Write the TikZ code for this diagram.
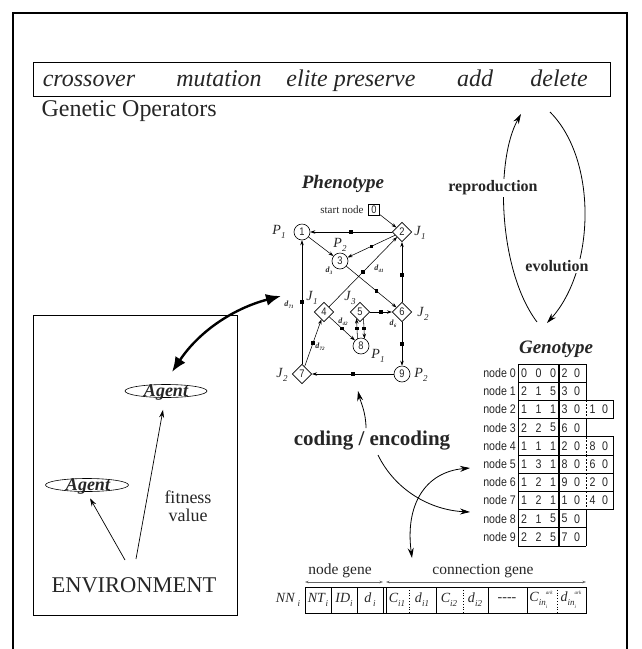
\documentclass[tikz,border=0pt]{standalone}
\usepackage{fontspec}
\setmainfont{Liberation Serif}
\newfontfamily\condsans[FakeStretch=0.85]{Liberation Sans}
\usetikzlibrary{arrows.meta,shapes.geometric,decorations.markings}

\newcommand\fsz[1]{\fontsize{#1}{#1}\selectfont}
% italic symbol with a small italic index
\newcommand\idx[2]{\textit{#1}\raisebox{-0.28em}{\fsz{9}\itshape #2}}
% bold italic delay label
\newcommand\dly[1]{\textbf{\textit{d}}\raisebox{-0.2em}{\fsz{5}\bfseries\itshape #1}}

\begin{document}
\begin{tikzpicture}[x=1pt,y=-1pt,
  every node/.style={text=black!85},
  opword/.style={font=\fsz{24}\itshape, anchor=base},
  pcirc/.style={circle, draw, line width=0.6pt, minimum size=16pt, inner sep=0pt, fill=white, font=\condsans\fsz{11}},
  pdiam/.style={diamond, draw, line width=0.6pt, minimum width=19.5pt, minimum height=19.5pt, inner sep=0pt, fill=white, font=\condsans\fsz{11}},
  plab/.style={font=\fsz{14}},
  dlab/.style={font=\fsz{8}},
  pe/.style={-{Stealth[length=5pt,width=3.5pt]}, line width=0.55pt},
  mid/.style={postaction={decorate}, decoration={markings, mark=at position #1 with {\pgftransformresetnontranslations\fill (-1.7,-1.7) rectangle (1.7,1.7);}}},
  mid/.default=0.5,
  bigarrow/.style={{Latex[length=15pt,width=12pt]}-{Latex[length=15pt,width=12pt]}, line width=2.4pt},
  thinarrow/.style={-{Stealth[length=8pt,width=5pt]}, line width=0.7pt},
  ca/.style={-{Stealth[length=10pt,width=6pt]}, line width=0.8pt},
  cyclelab/.style={font=\fsz{16}\bfseries, fill=white, inner sep=1.5pt},
  rowlab/.style={anchor=east, inner sep=0pt, font=\condsans\fsz{12.5}},
  dig/.style={inner sep=0pt, font=\condsans\fsz{12.5}},
  cell/.style={font=\fsz{14}},
  genearrow/.style={{Stealth[length=3.5pt,width=2.5pt]}-{Stealth[length=3.5pt,width=2.5pt]}, line width=0.6pt, black!60},
]
\useasboundingbox (0,0) rectangle (641,649);

% outer frame, open at the bottom
\draw[line width=2pt] (13,649) -- (13,13) -- (627,13) -- (627,649);

% genetic operators
\draw[line width=0.8pt] (33,62) rectangle (610,96);
\node[opword] (opc) at (89,86) {crossover};
\node[opword] (opm) at (219,86) {mutation};
\node[opword] (ope) at (351,86) {elite preserve};
\node[opword] (opa) at (475,86) {add};
\node[opword] (opd) at (559,86) {delete};
\node[font=\fsz{24}, anchor=base west] (gops) at (38,116) {Genetic Operators};

% reproduction / evolution cycle
\coordinate (rB) at (537,322);
\coordinate (rT) at (521,114);
\coordinate (eT) at (550,112);
\coordinate (eB) at (547,323);
\draw[ca] (rB) .. controls (498,270) and (495,160) .. (rT);
\draw[ca] (eT) .. controls (598,160) and (595,270) .. (eB);
\node[cyclelab] (repro) at (493,188) {reproduction};
\node[cyclelab] (evol) at (557,266) {evolution};

% phenotype network
\node[font=\fsz{19}\bfseries\itshape] (phen) at (343,184) {Phenotype};
\node[font=\fsz{11}, anchor=east] (stxt) at (367,210) {start node};
\node[draw, line width=0.8pt, minimum width=11pt, minimum height=11pt, inner sep=0pt, font=\condsans\fsz{11}] (n0) at (374,210) {0};
\node[pcirc] (n1) at (302,232) {1};
\node[pdiam] (n2) at (402,232) {2};
\node[pcirc] (n3) at (340,261) {3};
\node[pdiam] (n4) at (324,312) {4};
\node[pdiam] (n5) at (360,312) {5};
\node[pdiam] (n6) at (402,312) {6};
\node[pdiam] (n7) at (302,374) {7};
\node[pcirc] (n8) at (361,346) {8};
\node[pcirc] (n9) at (402,374) {9};

\draw[pe] (n0) -- (n2);
\draw[pe,mid] (n2) -- (n1);
\draw[pe] (n1) -- (n3);
\draw[pe,mid] (n2) -- (n3);
\draw[pe,mid] (n4) -- (n2);
\draw[pe,mid=0.6] (n3) -- (n6);
\draw[pe,mid=0.45] (n6) -- (n2);
\draw[pe,mid, line width=0.9pt] (n5) -- (n6);
\draw[pe,mid] (n4) -- (n8);
\draw[pe,mid] ([xshift=-3.5pt,yshift=-0.9pt]n8.north) -- ([xshift=-3.5pt,yshift=3.5pt]n5.south);
\draw[pe,mid] ([xshift=3.5pt,yshift=3.5pt]n5.south) -- ([xshift=3.5pt,yshift=-0.9pt]n8.north);
\draw[pe,mid] (n7) -- (n4);
\draw[pe,mid] (n9) -- (n7);
\draw[pe,mid] (n6) -- (n9);
\draw[pe,mid] (n7) -- (n1);

\node[plab] (lb1) at (279,232) {\idx{P}{1}};
\node[plab] (lb2) at (420,233) {\idx{J}{1}};
\node[plab] (lb3) at (340,245) {\idx{P}{2}};
\node[plab] (lb4) at (312,298) {\idx{J}{1}};
\node[plab] (lb5) at (350,298) {\idx{J}{3}};
\node[plab] (lb6) at (423,314) {\idx{J}{2}};
\node[plab] (lb7) at (282,375) {\idx{J}{2}};
\node[plab] (lb8) at (378,356) {\idx{P}{1}};
\node[plab] (lb9) at (421,375) {\idx{P}{2}};
\node[dlab] (d3) at (329,271) {\dly{3}};
\node[dlab] (d41) at (379,269) {\dly{41}};
\node[dlab] (d71) at (289,305) {\dly{71}};
\node[dlab] (d42) at (343,322) {\dly{42}};
\node[dlab] (d6) at (393,324) {\dly{6}};
\node[dlab] (d72) at (320,347) {\dly{72}};

% environment with its agents
\draw[line width=0.8pt] (33,315) rectangle (237,615);
\node[ellipse, draw, line width=0.6pt, minimum width=82pt, minimum height=13pt, inner sep=0pt] (agT) at (166,391) {};
\node[font=\fsz{18}\bfseries\itshape, anchor=base] (agTt) at (166,396) {Agent};
\node[ellipse, draw, line width=0.6pt, minimum width=83pt, minimum height=13pt, inner sep=0pt] (agB) at (87,485) {};
\node[font=\fsz{18}\bfseries\itshape, anchor=base] (agBt) at (88,490) {Agent};
\node[font=\fsz{18}, align=center] (fit) at (188,506) {fitness\\value};
\node[font=\fsz{22.5}, anchor=base] (env) at (134,592) {ENVIRONMENT};
\coordinate (ea) at (125,560);
\coordinate (eb) at (136,559);
\draw[thinarrow] (ea) -- ([xshift=3pt,yshift=-6.5pt]agB.south);
\draw[thinarrow] (eb) -- ([xshift=-3pt,yshift=-12pt]agT.south);

% agent <-> phenotype link
\coordinate (dblA) at (172,372);
\coordinate (dblB) at (281,296);
\draw[bigarrow] (dblA) .. controls (200,330) and (235,308) .. (dblB);

% coding / encoding
\node[font=\fsz{21}\bfseries] (code) at (372,441) {coding / encoding};
\coordinate (cu1) at (366,428);
\coordinate (cu2) at (358,391);
\draw[ca] (cu1) .. controls (366,412) and (360,400) .. (cu2);
\coordinate (cr1) at (378,455);
\coordinate (cr2) at (470,512);
\draw[ca] (cr1) .. controls (395,490) and (430,510) .. (cr2);
\coordinate (cd1) at (412,558);
\coordinate (cd2) at (470,468);
\draw[ca, {Stealth[length=10pt,width=6pt]}-{Stealth[length=10pt,width=6pt]}] (cd1) .. controls (405,505) and (425,472) .. (cd2);

% genotype table
\node[font=\fsz{19}\bfseries\itshape] (gen) at (556,349) {Genotype};
\foreach \r/\a/\b/\c/\d/\e in {0/0/0/0/2/0, 1/2/1/5/3/0, 2/1/1/1/3/0, 3/2/2/5/6/0, 4/1/1/1/2/0, 5/1/3/1/8/0, 6/1/2/1/9/0, 7/1/2/1/1/0, 8/2/1/5/5/0, 9/2/2/5/7/0}{
  \pgfmathsetmacro\yt{364+18.2*\r}
  \pgfmathsetmacro\ym{\yt+9.1}
  \pgfmathsetmacro\yb{\yt+18.2}
  \draw[line width=0.8pt] (586,\yt) -- (518,\yt) -- (518,\yb) -- (586,\yb);
  \draw[line width=1.6pt] (559,\yt) -- (559,\yb);
  \node[rowlab] (rl\r) at (516,\ym) {node \r};
  \node[dig] (g\r-a) at (524,\ym) {\a};
  \node[dig] (g\r-b) at (538.5,\ym) {\b};
  \node[dig] (g\r-c) at (553,\ym) {\c};
  \node[dig] (g\r-d) at (564.5,\ym) {\d};
  \node[dig] (g\r-e) at (577,\ym) {\e};
}
\foreach \r in {0,1,3,8,9}{
  \pgfmathsetmacro\yt{364+18.2*\r}
  \pgfmathsetmacro\yb{\yt+18.2}
  \draw[line width=0.8pt] (586,\yt) -- (586,\yb);
}
\foreach \r/\f/\g in {2/1/0, 4/8/0, 5/6/0, 6/2/0, 7/4/0}{
  \pgfmathsetmacro\yt{364+18.2*\r}
  \pgfmathsetmacro\ym{\yt+9.1}
  \pgfmathsetmacro\yb{\yt+18.2}
  \draw[line width=0.8pt] (586,\yt) -- (613,\yt) -- (613,\yb) -- (586,\yb);
  \draw[line width=0.7pt, dash pattern=on 2pt off 1.5pt] (586,\yt) -- (586,\yb);
  \node[dig] (g\r-f) at (592.5,\ym) {\f};
  \node[dig] (g\r-g) at (605,\ym) {\g};
}

% chromosome layout of one network
\node[font=\fsz{15.5}] (ngene) at (340,571) {node gene};
\node[font=\fsz{15.5}] (cgene) at (483,571) {connection gene};
\coordinate (na) at (305,582);
\coordinate (nb) at (383,582);
\coordinate (nc) at (386,582);
\coordinate (nd) at (586,582);
\draw[genearrow] (na) -- (nb);
\draw[genearrow] (nc) -- (nd);
\node[font=\fsz{14}] (nni) at (288,600) {\textit{NN}\,\raisebox{-0.28em}{\fsz{9}\itshape i}};
\draw[line width=0.8pt] (305,587) rectangle (586,613);
\foreach \x in {331,357,383,386,436,488,527}{
  \draw[line width=0.8pt] (\x,587) -- (\x,613);
}
\foreach \x in {409,463,557}{
  \draw[line width=0.8pt, dotted] (\x,587) -- (\x,613);
}
\node[cell] (c1) at (318,600) {\idx{NT}{i}};
\node[cell] (c2) at (344,600) {\idx{ID}{i}};
\node[cell] (c3) at (370,600) {\idx{d}{\,i}};
\node[cell] (c4) at (397,600) {\idx{C}{i1}};
\node[cell] (c5) at (422,600) {\idx{d}{i1}};
\node[cell] (c6) at (449,600) {\idx{C}{i2}};
\node[cell] (c7) at (475,600) {\idx{d}{i2}};
\node[cell] (c8) at (507,600) {-{}-{}-{}-};
\node[cell] (c9) at (541,600) {\textit{C}\raisebox{-0.28em}{\fsz{9}\itshape in}\raisebox{-0.5em}{\fsz{5}\itshape i}\hspace{-1.5pt}\raisebox{0.5em}{\fsz{5}\itshape ark}};
\node[cell] (c10) at (571,600) {\textit{d}\raisebox{-0.28em}{\fsz{9}\itshape in}\raisebox{-0.5em}{\fsz{5}\itshape i}\hspace{-1.5pt}\raisebox{0.5em}{\fsz{5}\itshape ark}};
\end{tikzpicture}
\end{document}
